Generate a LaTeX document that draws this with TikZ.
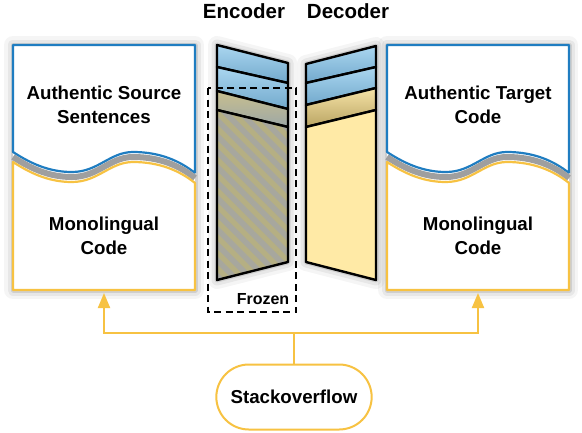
\documentclass[tikz,border=0pt]{standalone}
\usepackage{fontspec}
\setmainfont{Liberation Sans}
\usepackage{tikz}
\usetikzlibrary{arrows.meta,patterns.meta,shapes.misc}

\definecolor{docblue}{HTML}{1F7DC1}
\definecolor{gold}{HTML}{F7C242}
\definecolor{bluetop}{HTML}{AAD6F0}
\definecolor{bluebot}{HTML}{72A9CC}
\definecolor{olive}{HTML}{B5AF83}
\definecolor{stripe}{HTML}{A7A79E}
\definecolor{creambody}{HTML}{FFEAA6}
\definecolor{creamtop}{HTML}{F6E3A6}
\definecolor{creambot}{HTML}{B9A463}

\tikzset{
  halo/.style={
    preaction={draw=black,opacity=.04,line width=18pt,line join=round},
    preaction={draw=black,opacity=.06,line width=11pt,line join=round},
    preaction={draw=black,opacity=.1,line width=5pt,line join=round}},
  layer/.style={draw=black,line width=2.4pt,line join=round},
  doc text/.style={align=center,font=\fontsize{18.7}{24}\selectfont\bfseries},
  feed/.style={draw=gold,line width=2pt},
  split doc/.pic={
    \tikzset{/splitdoc/.cd, #1}
    \path[halo,fill=white] (0,0) rectangle (182,245);
    \draw[draw=docblue,line width=2.2pt,fill=white,line join=round]
      (182,128) -- (182,0) -- (0,0) -- (0,107)
      .. controls (20,120) and (38,127) .. (59,127)
      .. controls (85,127) and (97,107) .. (120,107)
      .. controls (147,107) and (167,116) .. (182,128);
    \draw[gray!75,line width=6pt]
      (0,112) .. controls (20,125) and (38,132) .. (59,132)
      .. controls (85,132) and (97,112) .. (120,112)
      .. controls (147,112) and (167,121) .. (182,133);
    \draw[draw=gold,line width=2.2pt,fill=white,line join=round]
      (0,245) -- (0,117)
      .. controls (20,130) and (38,137) .. (59,137)
      .. controls (85,137) and (97,117) .. (120,117)
      .. controls (147,117) and (167,126) .. (182,138) -- (182,245) -- cycle;
    \node[doc text] (-upper) at (91,60) {\docupper};
    \node[doc text] (-lower) at (91,191) {\doclower};
    \coordinate (-foot) at (91,245);
  },
  /splitdoc/.search also={/tikz},
  /splitdoc/.cd,
  upper/.store in=\docupper,
  lower/.store in=\doclower,
  upper=,
  lower=,
}

\begin{document}
\begin{tikzpicture}[x=1pt,y=-1pt]
  \useasboundingbox (0,0) rectangle (582,432);

  % documents
  \pic (srcdoc) at (13,45) {split doc={upper={Authentic Source\\Sentences}, lower={Monolingual\\Code}}};
  \pic (tgtdoc) at (387,45) {split doc={upper={Authentic Target\\Code}, lower={Monolingual\\Code}}};

  % encoder
  \path[halo] (217,45) -- (288,63) -- (288,262) -- (217,280) -- cycle;
  \draw[layer,top color=bluetop,bottom color=bluebot] (217,45) -- (288,63) -- (288,83) -- (217,67) -- cycle;
  \draw[layer,top color=bluetop,bottom color=bluebot] (217,67) -- (288,83) -- (288,109) -- (217,91) -- cycle;
  \draw[layer,top color=olive!70!creamtop,bottom color=stripe!80!bluebot] (217,91) -- (288,109) -- (288,127) -- (217,110) -- cycle;
  \draw[layer,preaction={fill=olive},pattern={Lines[angle=-45,distance=11pt,line width=5.5pt]},pattern color=stripe]
    (217,110) -- (288,127) -- (288,262) -- (217,280) -- cycle;

  % decoder
  \path[halo] (306,64) -- (376,46) -- (376,280) -- (306,262) -- cycle;
  \draw[layer,top color=bluetop,bottom color=bluebot] (306,64) -- (376,46) -- (376,67) -- (306,83) -- cycle;
  \draw[layer,top color=bluetop,bottom color=bluebot] (306,83) -- (376,67) -- (376,88) -- (306,105) -- cycle;
  \draw[layer,top color=creamtop,bottom color=creambot] (306,105) -- (376,88) -- (376,110) -- (306,127) -- cycle;
  \draw[layer,fill=creambody] (306,127) -- (376,110) -- (376,280) -- (306,262) -- cycle;

  \node[font=\fontsize{20.5}{24}\selectfont\bfseries] (enclabel) at (244,11) {Encoder};
  \node[font=\fontsize{20.5}{24}\selectfont\bfseries] (declabel) at (348,11) {Decoder};

  % frozen part
  \draw[line width=2.4pt,dash pattern=on 7pt off 4.5pt] (208,88) rectangle (296,312);
  \node[font=\fontsize{16}{18}\selectfont\bfseries] (frozen) at (263,299) {Frozen};

  % source of monolingual code
  \node[feed,fill=white,rounded rectangle,minimum width=162pt,minimum height=65pt,
        font=\fontsize{18.7}{24}\selectfont\bfseries] (so) at (294,397) {Stackoverflow};
  \coordinate (split) at (294,333);
  \draw[feed] (so.north) -- (split);
  \draw[feed,-{Triangle[length=15pt,width=12pt]},shorten >=3pt] (split) -| (srcdoc-foot);
  \draw[feed,-{Triangle[length=15pt,width=12pt]},shorten >=3pt] (split) -| (tgtdoc-foot);
\end{tikzpicture}
\end{document}
